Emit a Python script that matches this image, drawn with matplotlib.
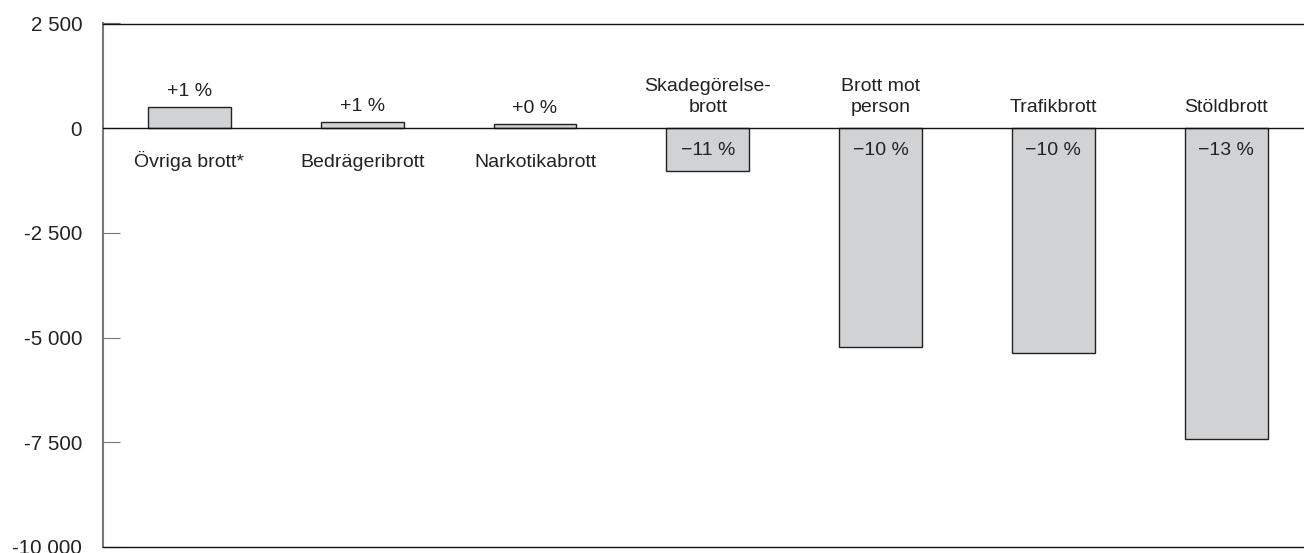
import matplotlib
matplotlib.use("Agg")
import matplotlib.pyplot as plt

categories = ["Övriga brott*", "Bedrägeribrott", "Narkotikabrott", "Skadegörelse-\nbrott",
              "Brott mot\nperson", "Trafikbrott", "Stöldbrott"]
values = [500, 140, 95, -1030, -5230, -5375, -7420]
pct_labels = ["+1 %", "+1 %", "+0 %", "\u221211 %", "\u221210 %", "\u221210 %", "\u221213 %"]
yticks = [2500, 0, -2500, -5000, -7500, -10000]
ytick_labels = ["2 500", "0", "-2 500", "-5 000", "-7 500", "-10 000"]

plt.rcParams['font.family'] = ['Liberation Sans', 'DejaVu Sans']
plt.rcParams['font.size'] = 14

fig = plt.figure(figsize=(13.04, 5.53), dpi=100)
W, H = 1304, 553
left, right = 103 / W, 1.0
bottom, top = 1 - 547 / H, 1 - 23.5 / H
ax = fig.add_axes([left, bottom, right - left, top - bottom])

x = list(range(len(categories)))
ax.bar(x, values, width=0.48, color="#d1d2d4", edgecolor="#222222", linewidth=1.0, zorder=2)
ax.axhline(0, color="#111111", linewidth=1.0, zorder=3)

ax.set_ylim(-10000, 2500)
ax.set_xlim(-0.5, 6.45)
ax.set_yticks(yticks)
ax.set_yticklabels(ytick_labels)
ax.set_xticks([])
ax.tick_params(axis='y', direction='in', length=12, width=0.8, color="#777777",
               pad=15, labelcolor="#222222", labelsize=14.8)

ax.spines["right"].set_visible(False)
ax.spines["left"].set_color("#777777")
ax.spines["left"].set_linewidth(1.5)
for s in ["top", "bottom"]:
    ax.spines[s].set_color("#111111")
    ax.spines[s].set_linewidth(1.0)

px = 72 / 100.0
tc = "#222222"
for xi, v, cat, pl in zip(x, values, categories, pct_labels):
    if v >= 0:
        ax.annotate(pl, (xi, v), xytext=(0, 11.5 * px), textcoords="offset points",
                    ha="center", va="baseline", color=tc)
        ax.annotate(cat, (xi, 0), xytext=(0, -38.5 * px), textcoords="offset points",
                    ha="center", va="baseline", color=tc)
    else:
        ax.annotate(pl, (xi, 0), xytext=(0, -27 * px), textcoords="offset points",
                    ha="center", va="baseline", color=tc)
        ax.annotate(cat, (xi, 0), xytext=(0, 16 * px),
                    textcoords="offset points", ha="center", va="baseline",
                    color=tc, linespacing=1.32)

fig.savefig("out.png", dpi=100)
